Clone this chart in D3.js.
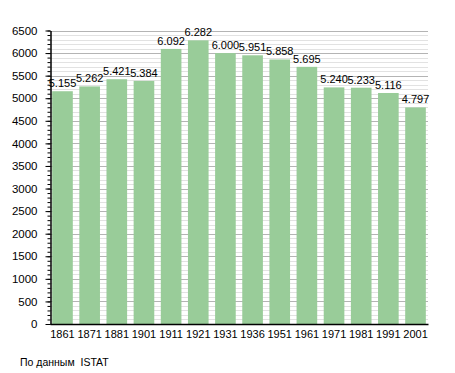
<!DOCTYPE html>
<html>
<head>
<meta charset="utf-8">
<script src="https://cdn.jsdelivr.net/npm/d3@7"></script>
<style>
  body { margin: 0; background: #fff; }
  svg { display: block; font-family: "Liberation Sans", Arial, sans-serif; }
</style>
</head>
<body>
<div id="chart"></div>
<script>
// census years and population
const years = ["1861", "1871", "1881", "1901", "1911", "1921", "1931", "1936", "1951", "1961", "1971", "1981", "1991", "2001"];
const population = [5155, 5262, 5421, 5384, 6092, 6282, 6000, 5951, 5858, 5695, 5240, 5233, 5116, 4797];
const yTicks = [0, 500, 1000, 1500, 2000, 2500, 3000, 3500, 4000, 4500, 5000, 5500, 6000, 6500];
const sourceNote = "По данным  ISTAT";

const data = years.map((y, i) => ({year: y, value: population[i]}));

const W = 455, H = 373;
const plot = {left: 50, right: 428, top: 30.5, bottom: 324};

const svg = d3.select("#chart").append("svg")
    .attr("width", W)
    .attr("height", H);

const x = d3.scaleBand()
    .domain(years)
    .range([plot.left, plot.right])
    .paddingInner(0.24)
    .paddingOuter(0.08);

const y = d3.scaleLinear()
    .domain([0, 6500])
    .range([plot.bottom, plot.top]);

// minor grid every 100
svg.append("g")
    .selectAll("line")
    .data(d3.range(100, 6501, 100).filter(v => v % 500 !== 0))
    .join("line")
    .attr("x1", plot.left).attr("x2", plot.right)
    .attr("y1", d => Math.round(y(d)) + 0.5)
    .attr("y2", d => Math.round(y(d)) + 0.5)
    .attr("stroke", "#e2e2e2")
    .attr("stroke-width", 1);

// major grid every 500
svg.append("g")
    .selectAll("line")
    .data(yTicks.filter(v => v > 0))
    .join("line")
    .attr("x1", plot.left).attr("x2", plot.right)
    .attr("y1", d => Math.round(y(d)) + 0.5)
    .attr("y2", d => Math.round(y(d)) + 0.5)
    .attr("stroke", "#b4b4b4")
    .attr("stroke-width", 1);

// bars
svg.append("g")
    .selectAll("rect")
    .data(data)
    .join("rect")
    .attr("x", d => x(d.year))
    .attr("y", d => y(d.value))
    .attr("width", x.bandwidth())
    .attr("height", d => plot.bottom - y(d.value))
    .attr("fill", "#99cc99");

// value labels
const fmt = v => d3.format(",")(v).replace(",", ".");
svg.append("g")
    .selectAll("text")
    .data(data)
    .join("text")
    .attr("x", d => x(d.year) + x.bandwidth() / 2)
    .attr("y", d => y(d.value) - 4)
    .attr("text-anchor", "middle")
    .attr("font-size", 11)
    .attr("fill", "#000")
    .text(d => fmt(d.value));

// y axis with minor ticks
svg.append("g")
    .attr("transform", `translate(${plot.left + 0.5},0)`)
    .call(d3.axisLeft(y).tickValues(d3.range(0, 6501, 100)).tickSize(3).tickFormat(""))
    .call(g => g.select(".domain").remove())
    .call(g => g.selectAll("line").attr("stroke", "#000"));

svg.append("g")
    .attr("transform", `translate(${plot.left + 0.5},0)`)
    .call(d3.axisLeft(y).tickValues(yTicks).tickFormat(d3.format("d"))
        .tickSize(5).tickPadding(8).tickSizeOuter(0))
    .call(g => g.select(".domain").attr("stroke", "#000").attr("stroke-width", 1.5))
    .call(g => g.selectAll("text").attr("font-size", 11.5).attr("fill", "#000")
        .attr("font-family", "Liberation Sans, Arial, sans-serif"));

// x axis
svg.append("g")
    .attr("transform", `translate(0,${plot.bottom})`)
    .call(d3.axisBottom(x).tickSize(0).tickPadding(6).tickSizeOuter(0))
    .call(g => g.select(".domain").attr("stroke", "#000").attr("stroke-width", 1.5))
    .call(g => g.selectAll("text").attr("font-size", 11).attr("fill", "#000")
        .attr("font-family", "Liberation Sans, Arial, sans-serif"));

// source note
svg.append("text")
    .attr("x", 20)
    .attr("y", 366)
    .attr("font-size", 10.5)
    .attr("fill", "#000")
    .style("white-space", "pre")
    .text(sourceNote);
</script>
</body>
</html>
